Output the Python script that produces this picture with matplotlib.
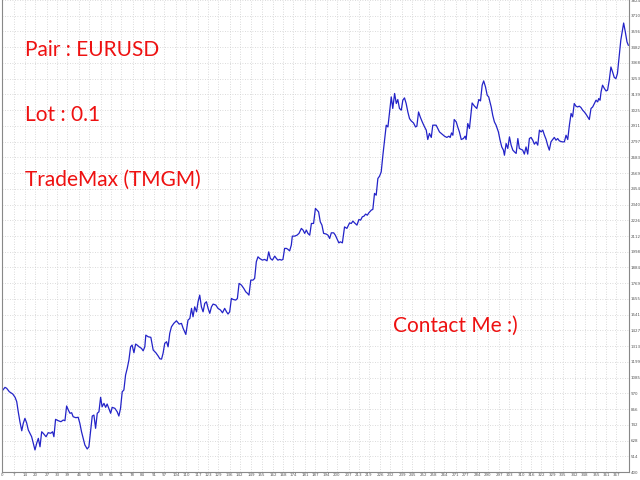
import matplotlib
matplotlib.use("Agg")
import matplotlib.pyplot as plt

# trade number vs balance
trade = [0, 1.8, 2.8, 4.4, 6.4, 7.8, 8.8, 9.7, 10.7, 11.8, 12.7, 13.7, 14.7, 15.7, 16.7, 17.7,
         18.7, 19.7, 20.7, 21.7, 22.7, 23.7, 24.6, 26.3, 27.6, 29.1, 30.2, 31.0, 32.0, 33.6,
         35.2, 36.6, 37.6, 38.6, 39.6, 40.6, 41.6, 42.5, 44.1, 45.5, 46.5, 47.5, 48.5, 49.5,
         50.9, 51.9, 52.9, 53.9, 54.9, 55.9, 56.9, 57.9, 58.9, 59.8, 60.9, 61.9, 62.8, 63.8,
         64.9, 65.8, 67.4, 68.8, 69.8, 70.8, 71.8, 72.8, 73.8, 74.8, 75.8, 76.8, 77.7, 78.8,
         79.8, 80.7, 81.9, 83.3, 84.3, 85.3, 85.9, 87.3, 88.9, 90.3, 91.9, 93.3, 94.3, 95.3,
         96.2, 97.2, 98.3, 99.2, 100.2, 101.2, 102.6, 104.2, 105.8, 107.2, 108.2, 109.8, 111.1,
         112.2, 113.2, 114.1, 115.1, 116.2, 117.1, 118.1, 119.1, 120.1, 121.1, 122.1, 123.1,
         124.1, 125.1, 126.1, 127.7, 129.0, 130.5, 131.7, 133.0, 134.1, 135.0, 136.0, 137.0,
         138.0, 139.6, 140.6, 141.6, 143.0, 144.4, 145.6, 146.6, 147.5, 148.6, 149.9, 150.9,
         151.9, 152.9, 153.9, 155.5, 156.9, 158.3, 159.3, 160.3, 161.5, 162.9, 163.9, 164.8,
         165.9, 166.9, 167.8, 168.8, 169.9, 170.8, 171.8, 172.8, 173.4, 174.8, 176.2, 177.4,
         178.8, 179.8, 180.8, 181.8, 182.7, 183.8, 184.8, 186.1, 187.2, 188.1, 189.1, 190.1,
         191.1, 192.1, 193.7, 194.7, 195.7, 196.7, 198.1, 199.1, 200.0, 201.2, 202.1, 203.3,
         204.6, 206.0, 207.6, 208.6, 209.6, 210.6, 212.0, 213.2, 214.2, 215.2, 216.2, 217.2,
         218.2, 219.1, 220.6, 221.5, 222.5, 223.5, 224.5, 225.5, 226.5, 227.5, 228.5, 229.5,
         230.5, 231.5, 232.5, 233.4, 234.5, 235.5, 236.4, 237.4, 238.5, 239.4, 240.4, 241.4,
         242.4, 243.4, 244.4, 245.8, 247.0, 247.8, 248.8, 249.8, 251.0, 252.4, 253.4, 254.3,
         255.3, 256.4, 257.3, 258.3, 259.3, 260.3, 261.3, 262.9, 264.3, 265.7, 266.9, 267.7,
         268.5, 269.3, 270.1, 271.3, 272.2, 273.2, 274.3, 275.6, 276.6, 277.2, 278.2, 279.2,
         280.8, 282.2, 283.6, 284.8, 285.8, 286.8, 287.7, 288.8, 289.8, 290.7, 292.2, 293.1,
         294.1, 295.1, 296.5, 297.5, 298.5, 299.5, 300.1, 301.1, 302.1, 303.1, 304.1, 305.1,
         306.1, 307.1, 308.1, 309.0, 310.1, 311.0, 312.0, 313.0, 314.0, 315.0, 316.0, 317.0,
         318.0, 319.0, 320.0, 321.0, 322.0, 323.0, 324.0, 325.0, 325.9, 326.9, 327.9, 328.9,
         329.9, 330.9, 331.9, 332.9, 334.5, 335.9, 336.9, 337.9, 338.9, 339.9, 340.8, 341.8,
         342.8, 343.8, 344.8, 345.8, 346.8, 347.8, 348.8, 349.8, 350.8, 351.8, 352.8, 353.8,
         354.8, 355.8, 356.4, 357.2, 357.8, 358.7, 359.8, 360.8, 361.7, 362.7, 363.7, 364.7,
         365.7, 366.7, 367.6, 368.6, 369.6, 370.6, 371.3, 372.3, 373.3, 374.1]

balance = [987, 1014, 1007, 982, 966, 942, 910, 837, 765, 699, 753, 789, 757, 705, 681, 656,
           608, 560, 608, 644, 583, 692, 681, 656, 685, 681, 692, 656, 782, 772,
           765, 777, 772, 879, 850, 826, 830, 801, 794, 797, 753, 692, 644, 596,
           567, 583, 692, 806, 813, 717, 826, 837, 942, 873, 898, 869, 893, 862,
           826, 869, 862, 837, 806, 862, 982, 995, 1103, 1152, 1212, 1308, 1321, 1265,
           1328, 1321, 1308, 1297, 1279, 1308, 1393, 1381, 1377, 1285, 1265, 1241, 1221, 1219,
           1261, 1333, 1345, 1308, 1406, 1453, 1478, 1497, 1473, 1478, 1442, 1398, 1502,
           1514, 1587, 1526, 1598, 1562, 1635, 1683, 1598, 1562, 1623, 1635, 1587,
           1551, 1598, 1618, 1611, 1587, 1575, 1555, 1587, 1562, 1546, 1562, 1659,
           1652, 1647, 1659, 1768, 1756, 1732, 1707, 1696, 1683, 1792, 1792, 1804,
           1925, 1961, 1949, 1937, 1942, 1932, 1997, 1949, 1937, 1966, 1949, 1937,
           1942, 1937, 1942, 2022, 2022, 2015, 2004, 2046, 2111, 2111, 2118, 2131,
           2167, 2155, 2131, 2155, 2131, 2118, 2203, 2203, 2312, 2300, 2287, 2215,
           2191, 2131, 2126, 2118, 2094, 2135, 2135, 2118, 2094, 2062, 2070, 2062,
           2178, 2167, 2207, 2203, 2220, 2207, 2191, 2232, 2227, 2251, 2256, 2271,
           2263, 2280, 2300, 2305, 2421, 2408, 2529, 2546, 2577, 2698, 2807, 2916,
           2903, 3012, 3121, 3037, 3146, 3073, 3102, 3037, 3025, 3097, 3114, 3073,
           3012, 2964, 2947, 2932, 2903, 2909, 3012, 2976, 2940, 2903, 2880, 2812,
           2856, 2827, 2916, 2916, 2916, 2892, 2867, 2851, 2836, 2827, 2836, 2827,
           2860, 2843, 2957, 2940, 2903, 2867, 2812, 2819, 2836, 2812, 2928, 2892,
           3077, 3054, 3037, 3102, 3092, 3206, 3237, 3193, 3133, 3121, 3048, 2988,
           2940, 2916, 2867, 2807, 2758, 2735, 2698, 2783, 2747, 2831, 2771, 2735,
           2722, 2711, 2819, 2747, 2740, 2735, 2706, 2758, 2706, 2819, 2827, 2807,
           2778, 2795, 2771, 2880, 2867, 2880, 2843, 2812, 2771, 2735, 2795, 2812,
           2827, 2807, 2819, 2802, 2795, 2795, 2843, 2812, 2916, 3001, 2976, 3073,
           3054, 3048, 3054, 3044, 3025, 3012, 2996, 2976, 2957, 3037, 3048, 3073,
           3097, 3085, 3109, 3097, 3157, 3206, 3182, 3164, 3170, 3242, 3338, 3302,
           3262, 3254, 3291, 3411, 3532, 3605, 3657, 3592, 3520, 3496]

x_ticks = [0, 7, 14, 20, 27, 33, 39, 46, 52, 59, 65, 71, 78, 84, 91, 97, 104, 110, 117, 123,
           129, 136, 142, 149, 155, 162, 168, 174, 181, 187, 194, 200, 207, 213, 219, 226,
           232, 239, 245, 252, 258, 264, 271, 277, 284, 290, 297, 303, 310, 316, 322, 329,
           335, 342, 348, 355, 361, 367]
y_ticks = [400, 514, 628, 742, 856, 970, 1085, 1199, 1313, 1427, 1541, 1655, 1769, 1884,
           1998, 2112, 2226, 2340, 2454, 2569, 2683, 2797, 2911, 3025, 3139, 3253, 3368,
           3482, 3596, 3710, 3824]

notes = ["Pair : EURUSD", "Lot : 0.1", "TradeMax (TMGM)"]


def main():
    fig = plt.figure(figsize=(6.4, 4.8), dpi=100)
    ax = fig.add_axes([2 / 640, 8 / 480, 627 / 640, 472 / 480])

    ax.plot(trade, balance, color="#2323c8", lw=0.9)

    ax.set_xlim(0, 374.5)
    ax.set_ylim(400, 3824)
    ax.set_xticks(x_ticks)
    ax.set_yticks(y_ticks)
    ax.yaxis.tick_right()
    ax.tick_params(axis="both", labelsize=2.9, colors="#555555", length=0, pad=1)
    ax.grid(True, color="#cfcfcf", linestyle=(0, (1, 2)), linewidth=0.6)

    ax.spines["top"].set_visible(False)
    for side in ["left", "right", "bottom"]:
        ax.spines[side].set_color("#888888")
        ax.spines[side].set_linewidth(0.8)

    # red text labels over the plot
    for i, txt in enumerate(notes):
        ax.text(0.037, 0.895 - i * 0.138, txt, transform=ax.transAxes,
                fontsize=15, color="#ee1111", family="Lato", va="center")
    ax.text(0.623, 0.31, "Contact Me :)", transform=ax.transAxes,
            fontsize=15, color="#ee1111", family="Lato", va="center")

    fig.savefig("out.png", dpi=100)


if __name__ == "__main__":
    main()
